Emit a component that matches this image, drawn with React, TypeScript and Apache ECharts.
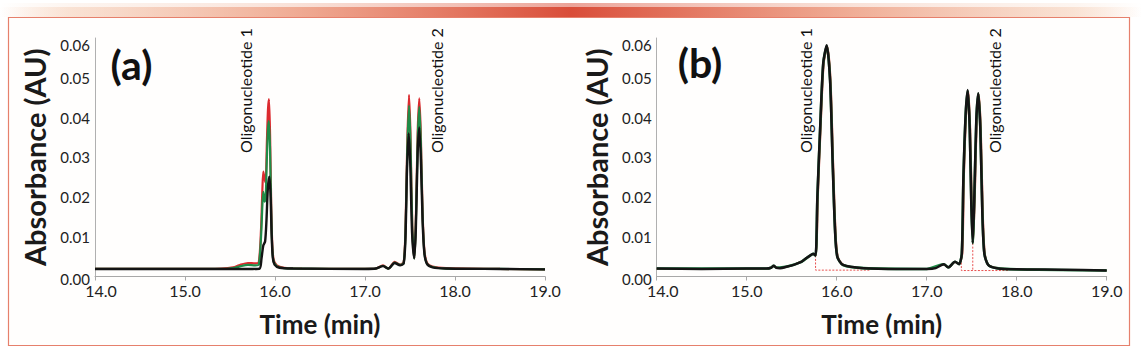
import React, { useEffect, useRef } from "react";
import * as echarts from "echarts";

// ---------- Data (time in min, absorbance in AU) ----------
const xTicks = [14, 15, 16, 17, 18, 19];
const yTicks = [0, 0.01, 0.02, 0.03, 0.04, 0.05, 0.06];
const panelLetters = ["(a)", "(b)"];
const peakNames = ["Oligonucleotide 1", "Oligonucleotide 2"];

const redA: [number, number][] = [
  [14.0, 0.0019], [15.0, 0.0019], [15.4, 0.002], [15.55, 0.0024], [15.62, 0.003],
  [15.7, 0.0034], [15.78, 0.0033], [15.82, 0.0036], [15.845, 0.012], [15.86, 0.022],
  [15.87, 0.0264], [15.885, 0.0245], [15.896, 0.0236], [15.91, 0.034], [15.922, 0.042],
  [15.933, 0.0446], [15.945, 0.036], [15.958, 0.018], [15.97, 0.008], [15.985, 0.0042],
  [16.02, 0.0028], [16.1, 0.0022], [16.3, 0.002], [17.0, 0.0019], [17.12, 0.002],
  [17.2, 0.0028], [17.26, 0.002], [17.33, 0.0037], [17.39, 0.003], [17.43, 0.0036],
  [17.45, 0.012], [17.47, 0.034], [17.489, 0.0457], [17.505, 0.036], [17.525, 0.013],
  [17.548, 0.0046], [17.565, 0.014], [17.585, 0.036], [17.603, 0.0448], [17.62, 0.036],
  [17.64, 0.016], [17.66, 0.0065], [17.69, 0.0034], [17.75, 0.0025], [17.9, 0.0021],
  [18.5, 0.0019], [19.0, 0.0018],
];

const greenA: [number, number][] = [
  [14.0, 0.0019], [15.0, 0.0019], [15.4, 0.0019], [15.55, 0.0022], [15.62, 0.0026],
  [15.7, 0.0029], [15.78, 0.0028], [15.82, 0.003], [15.845, 0.01], [15.86, 0.018],
  [15.87, 0.0213], [15.885, 0.0188], [15.896, 0.0195], [15.91, 0.03], [15.922, 0.037],
  [15.932, 0.0391], [15.945, 0.032], [15.958, 0.016], [15.97, 0.007], [15.985, 0.0038],
  [16.02, 0.0026], [16.1, 0.0021], [16.3, 0.002], [17.0, 0.0019], [17.12, 0.002],
  [17.2, 0.0027], [17.26, 0.002], [17.33, 0.0035], [17.39, 0.0029], [17.43, 0.0034],
  [17.45, 0.011], [17.47, 0.032], [17.489, 0.043], [17.505, 0.034], [17.525, 0.012],
  [17.548, 0.0045], [17.565, 0.013], [17.585, 0.034], [17.603, 0.0427], [17.62, 0.034],
  [17.64, 0.015], [17.66, 0.006], [17.69, 0.0032], [17.75, 0.0024], [17.9, 0.002],
  [18.5, 0.0019], [19.0, 0.0018],
];

const blackA: [number, number][] = [
  [14.0, 0.0019], [15.0, 0.0019], [15.5, 0.0019], [15.75, 0.0019], [15.83, 0.002],
  [15.85, 0.0045], [15.87, 0.0078], [15.89, 0.0088], [15.905, 0.014], [15.92, 0.022],
  [15.937, 0.0251], [15.95, 0.021], [15.962, 0.011], [15.975, 0.0048], [15.995, 0.003],
  [16.05, 0.0022], [16.2, 0.002], [17.0, 0.0019], [17.12, 0.002], [17.2, 0.0026],
  [17.26, 0.002], [17.33, 0.0034], [17.39, 0.0028], [17.43, 0.0033], [17.45, 0.01],
  [17.467, 0.027], [17.485, 0.036], [17.502, 0.029], [17.523, 0.011], [17.547, 0.0046],
  [17.565, 0.012], [17.585, 0.031], [17.603, 0.0375], [17.62, 0.03], [17.64, 0.014],
  [17.66, 0.0058], [17.69, 0.0031], [17.75, 0.0023], [17.9, 0.002], [18.5, 0.0019],
  [19.0, 0.0018],
];

const redB: [number, number][] = [
  [14.0, 0.0019], [15.0, 0.0019], [15.25, 0.002], [15.3, 0.0026], [15.35, 0.0021],
  [15.5, 0.0028], [15.65, 0.0043], [15.74, 0.0056], [15.772, 0.0053], [15.793, 0.02],
  [15.823, 0.0369], [15.858, 0.0536], [15.897, 0.0578], [15.934, 0.0494], [15.963, 0.0285],
  [15.989, 0.0117], [16.014, 0.005], [16.08, 0.0029], [16.3, 0.0021], [17.0, 0.0019],
  [17.19, 0.003], [17.24, 0.0023], [17.315, 0.0036], [17.36, 0.0031], [17.398, 0.0058],
  [17.415, 0.0243], [17.441, 0.041], [17.464, 0.0465], [17.486, 0.0369], [17.504, 0.0176],
  [17.518, 0.0086], [17.537, 0.0201], [17.559, 0.0394], [17.581, 0.0457], [17.604, 0.0369],
  [17.626, 0.0159], [17.648, 0.0058], [17.69, 0.0029], [17.8, 0.0021], [18.0, 0.0018],
  [19.0, 0.0015],
];

const greenB: [number, number][] = [
  [14.0, 0.002], [15.0, 0.002], [15.22, 0.002], [15.27, 0.0022], [15.3, 0.0027],
  [15.33, 0.0022], [15.45, 0.0025], [15.6, 0.0036], [15.7, 0.0052], [15.74, 0.0057],
  [15.766, 0.0053], [15.786, 0.02], [15.816, 0.0369], [15.851, 0.0536], [15.89, 0.058],
  [15.927, 0.0494], [15.956, 0.0285], [15.982, 0.0117], [16.007, 0.005], [16.07, 0.0029],
  [16.3, 0.0021], [17.0, 0.0019], [17.19, 0.0031], [17.24, 0.0023], [17.315, 0.0037],
  [17.36, 0.0031], [17.39, 0.0058], [17.408, 0.0243], [17.434, 0.041], [17.457, 0.0467],
  [17.479, 0.0369], [17.497, 0.0176], [17.512, 0.0084], [17.53, 0.0201], [17.552, 0.0394],
  [17.574, 0.046], [17.597, 0.0369], [17.619, 0.0159], [17.641, 0.0058], [17.685, 0.0029],
  [17.78, 0.0021], [18.0, 0.0018], [19.0, 0.0015],
];

const blackB: [number, number][] = [
  [14.0, 0.002], [14.5, 0.0019], [15.0, 0.002], [15.22, 0.002], [15.27, 0.0022],
  [15.3, 0.0027], [15.33, 0.0022], [15.37, 0.0021], [15.45, 0.0025], [15.53, 0.003],
  [15.6, 0.0036], [15.65, 0.0044], [15.7, 0.0052], [15.74, 0.0057], [15.765, 0.0053],
  [15.785, 0.02], [15.815, 0.0369], [15.85, 0.0536], [15.889, 0.0582], [15.926, 0.0494],
  [15.955, 0.0285], [15.981, 0.0117], [16.006, 0.005], [16.07, 0.0029], [16.3, 0.0021],
  [16.7, 0.0019], [17.0, 0.0019], [17.1, 0.0021], [17.19, 0.0031], [17.24, 0.0023],
  [17.315, 0.0037], [17.36, 0.0031], [17.39, 0.0058], [17.407, 0.0243], [17.433, 0.041],
  [17.456, 0.0469], [17.478, 0.0369], [17.496, 0.0176], [17.511, 0.0084], [17.529, 0.0201],
  [17.551, 0.0394], [17.573, 0.0461], [17.596, 0.0369], [17.618, 0.0159], [17.64, 0.0058],
  [17.684, 0.0029], [17.78, 0.0021], [18.0, 0.0018], [18.5, 0.0017], [19.0, 0.0015],
];

// integration baselines / drop lines in panel (b)
const baselineB1: [number, number][] = [[15.765, 0.0053], [15.765, 0.0016], [16.37, 0.0016]];
const baselineB2: [number, number][] = [[17.385, 0.0035], [17.385, 0.0015], [17.91, 0.0015]];
const dropB: [number, number][] = [[17.512, 0.0084], [17.512, 0.0015]];

const FONT = "Lato";
const RED = "#dc2a2f";
const GREEN = "#1f8b47";
const BLACK = "#141414";

function xAxisOf(gridIndex: number) {
  return {
    type: "value",
    gridIndex,
    min: xTicks[0],
    max: xTicks[xTicks.length - 1],
    interval: 1,
    axisLine: { show: true, lineStyle: { color: "#a8a8a8", width: 1 } },
    axisTick: { show: true, length: 4, lineStyle: { color: "#a8a8a8" } },
    splitLine: { show: false },
    axisLabel: {
      margin: 6,
      fontSize: 16,
      fontFamily: FONT,
      color: "#222",
      formatter: (v: number) => (v === xTicks[0] ? `{first|${v.toFixed(1)}}` : v.toFixed(1)),
      rich: { first: { padding: [0, 0, 0, 12], fontSize: 16, fontFamily: FONT, color: "#222" } },
    },
    name: "Time (min)",
    nameLocation: "middle",
    nameGap: 34,
    nameTextStyle: { fontSize: 26, fontWeight: "bold", fontFamily: FONT, color: "#1a1a1a" },
  };
}

function yAxisOf(gridIndex: number) {
  return {
    type: "value",
    gridIndex,
    min: yTicks[0],
    max: yTicks[yTicks.length - 1],
    interval: 0.01,
    axisLine: { show: true, lineStyle: { color: "#b0b0b0", width: 1 } },
    axisTick: { show: false },
    splitLine: { show: false },
    axisLabel: {
      margin: 5,
      fontSize: 15,
      fontFamily: FONT,
      color: "#222",
      formatter: (v: number) => {
        const s = v.toFixed(2);
        if (Math.abs(v - yTicks[yTicks.length - 1]) < 1e-9) return `{top|${s}}`;
        if (Math.abs(v) < 1e-9) return `{bot|${s}}`;
        return s;
      },
      rich: {
        top: { padding: [14, 0, 0, 0], fontSize: 15, fontFamily: FONT, color: "#222" },
        bot: { padding: [5, 0, 0, 0], fontSize: 15, fontFamily: FONT, color: "#222" },
      },
    },
    name: "Absorbance (AU)",
    nameLocation: "middle",
    nameGap: 46,
    nameRotate: 90,
    nameTextStyle: { fontSize: 29, fontWeight: "bold", fontFamily: FONT, color: "#1a1a1a" },
  };
}

function trace(data: [number, number][], color: string, width: number, idx: number, z: number) {
  return {
    type: "line",
    xAxisIndex: idx,
    yAxisIndex: idx,
    data,
    showSymbol: false,
    smooth: 0.25,
    z,
    lineStyle: { color, width },
    emphasis: { disabled: true },
  };
}

function dotted(data: [number, number][], color: string) {
  return {
    type: "line",
    xAxisIndex: 1,
    yAxisIndex: 1,
    data,
    showSymbol: false,
    z: 1,
    lineStyle: { color, width: 1, type: [2, 1.5] },
    emphasis: { disabled: true },
  };
}

function vText(x: number, y: number, text: string) {
  return {
    type: "text",
    x,
    y,
    rotation: Math.PI / 2,
    z: 10,
    style: { text, fontSize: 16, fontFamily: FONT, fill: "#111", align: "left", verticalAlign: "middle" },
  };
}

export default function App() {
  const ref = useRef<HTMLDivElement>(null);
  useEffect(() => {
    if (!ref.current) return;
    const chart = echarts.init(ref.current, undefined, { renderer: "svg" });
    chart.setOption({
      animation: false,
      backgroundColor: "#ffffff",
      grid: [
        { left: 95, top: 38, width: 450, height: 238.5 },
        { left: 656.7, top: 38, width: 450, height: 238.5 },
      ],
      xAxis: [xAxisOf(0), xAxisOf(1)],
      yAxis: [yAxisOf(0), yAxisOf(1)],
      series: [
        trace(redA, RED, 2.2, 0, 2),
        trace(greenA, GREEN, 2.2, 0, 3),
        trace(blackA, BLACK, 2.4, 0, 4),
        dotted(baselineB1, "#e8504f"),
        dotted(baselineB2, "#e8504f"),
        dotted(dropB, "#e8504f"),
        trace(redB, RED, 1.6, 1, 2),
        trace(greenB, GREEN, 2.6, 1, 3),
        trace(blackB, BLACK, 2.5, 1, 4),
      ],
      graphic: [
        {
          type: "rect",
          z: 0,
          silent: true,
          shape: { x: 0, y: 3, width: 1142, height: 14 },
          style: {
            fill: new echarts.graphic.LinearGradient(0, 0, 1, 0, [
              { offset: 0, color: "rgba(246,200,170,0)" },
              { offset: 0.06, color: "rgba(245,205,180,0.4)" },
              { offset: 0.25, color: "rgba(236,160,130,0.6)" },
              { offset: 0.5, color: "rgba(214,62,40,0.95)" },
              { offset: 0.75, color: "rgba(236,160,130,0.6)" },
              { offset: 0.94, color: "rgba(245,205,180,0.4)" },
              { offset: 1, color: "rgba(246,200,170,0)" },
            ]),
            opacity: 0.5,
          },
        },
        {
          type: "rect",
          z: 0,
          silent: true,
          shape: { x: 0, y: 7, width: 1142, height: 10 },
          style: {
            fill: new echarts.graphic.LinearGradient(0, 0, 1, 0, [
              { offset: 0, color: "rgba(246,200,170,0)" },
              { offset: 0.06, color: "rgba(245,205,180,0.55)" },
              { offset: 0.25, color: "rgba(236,150,120,0.8)" },
              { offset: 0.5, color: "rgba(214,62,40,1)" },
              { offset: 0.75, color: "rgba(236,150,120,0.8)" },
              { offset: 0.94, color: "rgba(245,205,180,0.55)" },
              { offset: 1, color: "rgba(246,200,170,0)" },
            ]),
            opacity: 0.85,
          },
        },
        {
          type: "rect",
          z: 0,
          silent: true,
          shape: { x: 8.5, y: 17.5, width: 1121, height: 328 },
          style: { fill: "#fffefd", stroke: "#e6806c", lineWidth: 1.2 },
        },
        {
          type: "text",
          x: 131.5,
          y: 64,
          z: 10,
          style: { text: panelLetters[0], fontSize: 41, fontWeight: "bold", fontFamily: FONT, fill: "#111", align: "center", verticalAlign: "middle" },
        },
        {
          type: "text",
          x: 700,
          y: 62,
          z: 10,
          style: { text: panelLetters[1], fontSize: 41, fontWeight: "bold", fontFamily: FONT, fill: "#111", align: "center", verticalAlign: "middle" },
        },
        vText(245.7, 153, peakNames[0]),
        vText(436, 153, peakNames[1]),
        vText(805, 153, peakNames[0]),
        vText(994, 153, peakNames[1]),
      ],
    });
    return () => chart.dispose();
  }, []);
  return (
    <div
      ref={ref}
      style={{ position: "fixed", left: 0, top: 0, width: 1142, height: 358 }}
    />
  );
}
